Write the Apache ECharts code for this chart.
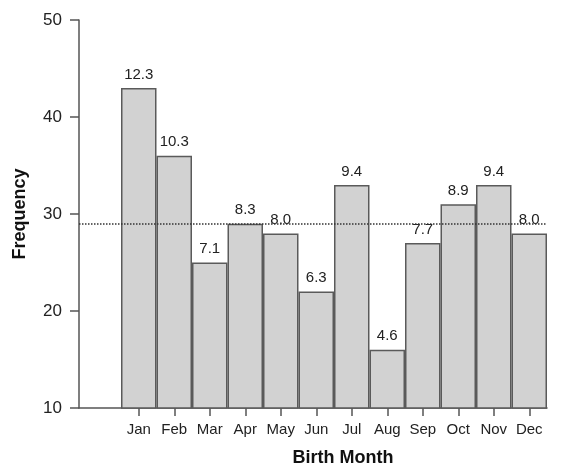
<!DOCTYPE html>
<html>
<head>
<meta charset="utf-8">
<script src="https://cdn.jsdelivr.net/npm/echarts@6/dist/echarts.min.js"></script>
<style>
  html, body { margin: 0; padding: 0; background: #fff; }
  #chart { width: 568px; height: 468px; }
</style>
</head>
<body>
<div id="chart"></div>
<script>
const months = ["Jan", "Feb", "Mar", "Apr", "May", "Jun", "Jul", "Aug", "Sep", "Oct", "Nov", "Dec"];
const counts = [43, 36, 25, 29, 28, 22, 33, 16, 27, 31, 33, 28];
const percents = ["12.3", "10.3", "7.1", "8.3", "8.0", "6.3", "9.4", "4.6", "7.7", "8.9", "9.4", "8.0"];
const meanLine = 29;
const yTicks = { min: 10, max: 50, step: 10 };

const FONT = "Arial, 'Liberation Sans', sans-serif";
const AXIS_COLOR = "#555";
const TEXT_COLOR = "#222";

const chart = echarts.init(document.getElementById("chart"));

chart.setOption({
  animation: false,
  textStyle: { fontFamily: FONT },
  grid: [
    { left: 79, right: 21, top: 20, bottom: 60, outerBoundsMode: "none", containLabel: false },
    { left: 121, right: 21, top: 20, bottom: 60, outerBoundsMode: "none", containLabel: false }
  ],
  xAxis: [
    {
      gridIndex: 0,
      type: "value",
      min: 0,
      max: 1,
      axisLine: { show: true, lineStyle: { color: AXIS_COLOR, width: 1.5 } },
      axisTick: { show: false },
      axisLabel: { show: false },
      splitLine: { show: false }
    },
    {
      gridIndex: 1,
      type: "category",
      data: months,
      axisLine: { show: false },
      axisTick: { show: true, alignWithLabel: true, interval: 0, length: 8, lineStyle: { color: AXIS_COLOR, width: 1.5 } },
      axisLabel: { color: TEXT_COLOR, fontSize: 15, margin: 14, interval: 0, hideOverlap: false, fontFamily: FONT },
      name: "Birth Month",
      nameLocation: "middle",
      nameGap: 41,
      nameTextStyle: { fontSize: 18, fontWeight: "bold", color: "#111", fontFamily: FONT, padding: [0, 0, 0, 18] }
    }
  ],
  yAxis: [
    {
      gridIndex: 0,
      type: "value",
      min: yTicks.min,
      max: yTicks.max,
      interval: yTicks.step,
      axisLine: { show: true, lineStyle: { color: AXIS_COLOR, width: 1.5 } },
      axisTick: { show: true, length: 9, lineStyle: { color: AXIS_COLOR, width: 1.5 } },
      axisLabel: { color: TEXT_COLOR, fontSize: 17, margin: 17, fontFamily: FONT },
      splitLine: { show: false },
      name: "Frequency",
      nameLocation: "middle",
      nameRotate: 90,
      nameGap: 50,
      nameTextStyle: { fontSize: 18, fontWeight: "bold", color: "#111", fontFamily: FONT }
    },
    {
      gridIndex: 1,
      type: "value",
      min: yTicks.min,
      max: yTicks.max,
      show: false
    }
  ],
  series: [
    {
      type: "bar",
      xAxisIndex: 1,
      yAxisIndex: 1,
      data: counts,
      barCategoryGap: 0,
      itemStyle: { color: "#d2d2d2", borderColor: "#5a5a5a", borderWidth: 1.5 },
      label: {
        show: true,
        position: "top",
        distance: 6,
        fontSize: 15,
        color: TEXT_COLOR,
        fontFamily: FONT,
        formatter: (p) => percents[p.dataIndex]
      }
    },
    {
      type: "line",
      xAxisIndex: 0,
      yAxisIndex: 0,
      data: [],
      markLine: {
        silent: true,
        symbol: "none",
        label: { show: false },
        lineStyle: { type: "dotted", color: "#333", width: 1.5 },
        data: [{ yAxis: meanLine }]
      }
    }
  ]
});
</script>
</body>
</html>
